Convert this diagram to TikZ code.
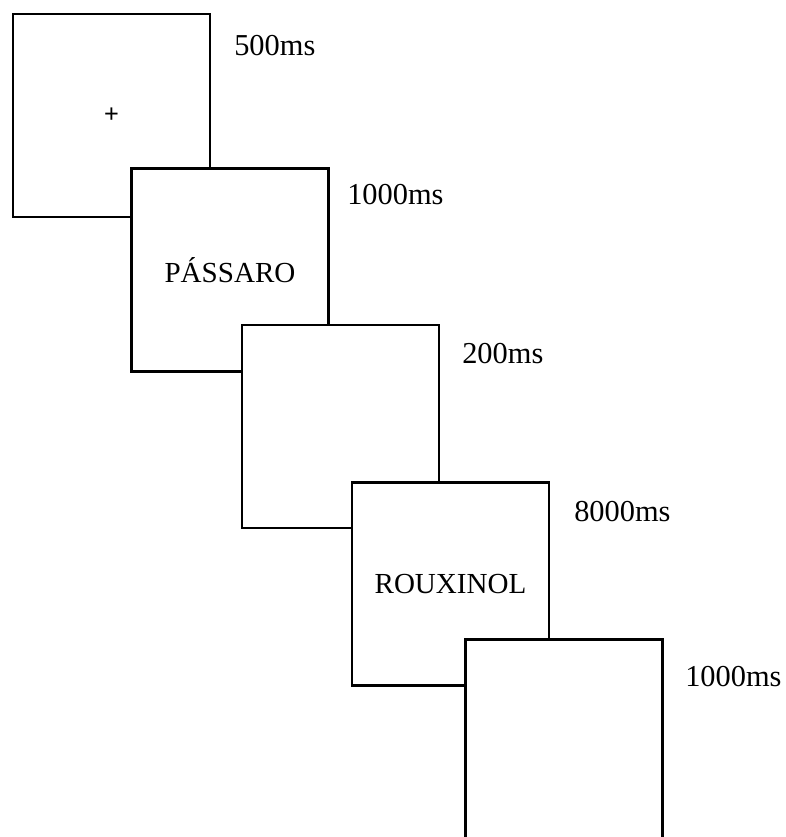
\documentclass[tikz,border=0pt]{standalone}
\usepackage{fontspec}
\setmainfont{Liberation Serif}
\newfontfamily\plusfont{Liberation Sans}

\begin{document}
\begin{tikzpicture}[
  x=0.75pt, y=-0.75pt,
  screen/.style={draw, fill=white, line width=2.1pt, minimum width=147.75pt, minimum height=152.25pt, inner sep=0pt, font=\fontsize{21.8}{26}\selectfont},
  dur/.style={anchor=base west, inner sep=0pt, font=\fontsize{22.8}{27}\selectfont}
]
\clip (0,0) rectangle (785,837);
% screens, each one drawn over the previous one
\node[screen] (fix) at (111.5,115.5) {\plusfont\fontsize{19}{20}\selectfont +};
\node[screen] (prime) at (230,270) {PÁSSARO};
\node[screen] (blank) at (340.5,426.5) {};
\node[screen] (target) at (450.5,584) {ROUXINOL};
\node[screen, minimum height=160pt] (resp) at (564,746) {};
% durations
\node[dur] (tfix) at (234,56) {500ms};
\node[dur] (tprime) at (347,205) {1000ms};
\node[dur] (tblank) at (462,363) {200ms};
\node[dur] (ttarget) at (574,521) {8000ms};
\node[dur] (tresp) at (685,686) {1000ms};
\end{tikzpicture}
\end{document}
